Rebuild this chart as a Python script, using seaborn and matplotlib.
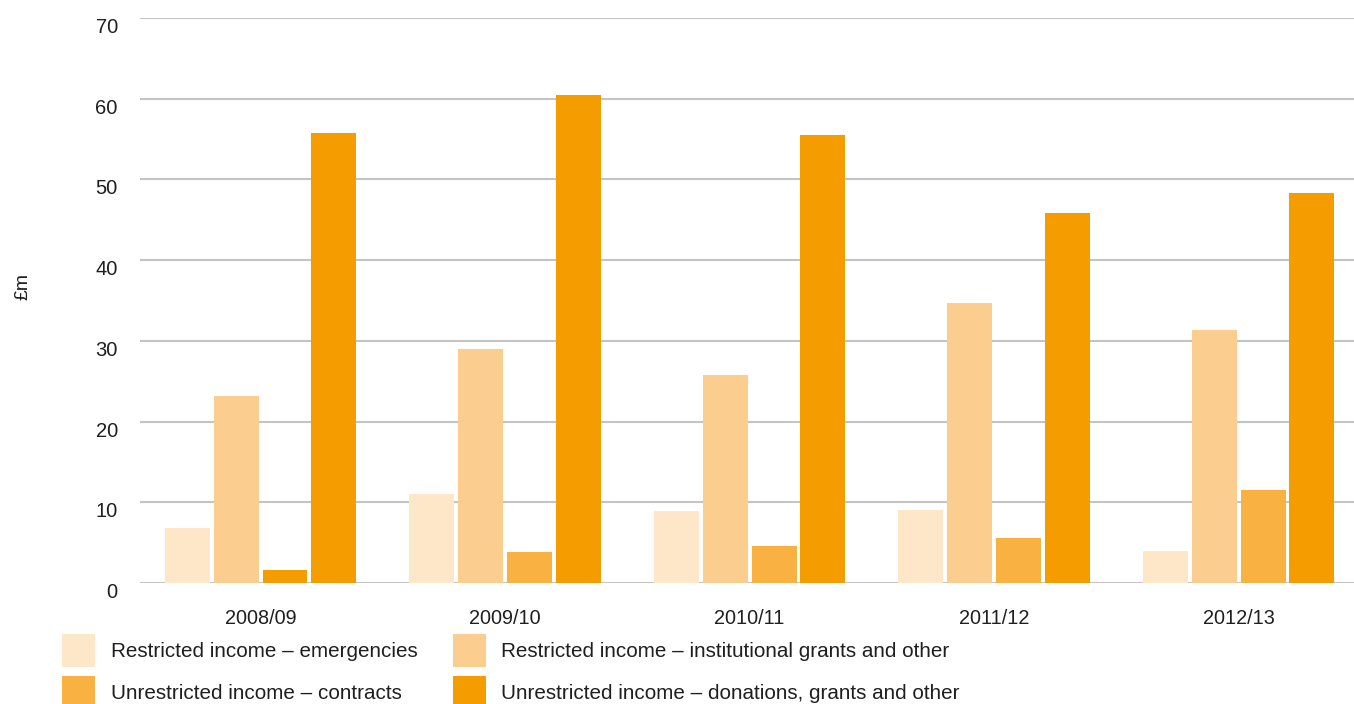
import matplotlib
matplotlib.use("Agg")
import matplotlib.pyplot as plt
import seaborn as sns
import pandas as pd
from matplotlib.patches import Patch

years = ["2008/09", "2009/10", "2010/11", "2011/12", "2012/13"]
series = [
    "Restricted income – emergencies",
    "Restricted income – institutional grants and other",
    "Unrestricted income – contracts",
    "Unrestricted income – donations, grants and other",
]
emergencies = [6.8, 11.0, 8.9, 9.0, 4.0]
institutional = [23.2, 29.0, 25.8, 34.7, 31.4]
contracts = [1.6, 3.8, 4.6, 5.6, 11.5]
donations = [55.8, 60.5, 55.5, 45.8, 48.3]
colors = ["#FEE6C8", "#FBCE8F", "#F9B242", "#F59C00"]
yticks = [0, 10, 20, 30, 40, 50, 60, 70]

rows = []
for name, vals in zip(series, [emergencies, institutional, contracts, donations]):
    for y, v in zip(years, vals):
        rows.append({"year": y, "series": name, "value": v})
df = pd.DataFrame(rows)

sns.set_theme(style="white")
plt.rcParams["font.family"] = ["Liberation Sans", "DejaVu Sans"]
text_color = "#1f1f1f"

fig = plt.figure(figsize=(13.54, 7.04), dpi=100)
ax = fig.add_axes([140 / 1354, 1 - 583 / 704, 1 - 140 / 1354, (583 - 18) / 704])

sns.barplot(data=df, x="year", y="value", hue="series", hue_order=series,
            palette=colors, width=0.8, gap=0.08, saturation=1, errorbar=None,
            linewidth=0, edgecolor="none", ax=ax, legend=False, zorder=3)

# the first contracts bar is printed in the deeper orange
first_group = [p for p in ax.patches if p.get_x() + p.get_width() / 2 < 0.5]
first_group.sort(key=lambda p: p.get_x())
if len(first_group) >= 3:
    first_group[2].set_facecolor(colors[3])

ax.set_ylim(0, 70)
ax.set_xlim(-0.493, 4.472)
ax.set_yticks(yticks)
ax.yaxis.grid(True, color="#c4c4c4", linewidth=1.5, zorder=0)
ax.set_axisbelow(True)
for s in ax.spines.values():
    s.set_visible(False)
ax.tick_params(axis="y", length=0, pad=16, labelsize=14.5, labelcolor=text_color)
ax.tick_params(axis="x", length=0, pad=19, labelsize=14.3, labelcolor=text_color)
for lab in ax.get_yticklabels():
    lab.set_verticalalignment("top")
ax.set_xlabel("")
ax.set_ylabel("£m", fontsize=14, color=text_color)
ax.yaxis.set_label_coords((31 - 140) / 1214, (583 - 286) / 565)

order = [0, 2, 1, 3]
handles = [Patch(facecolor=colors[i], edgecolor="none") for i in order]
labels = [series[i] for i in order]
fig.legend(handles, labels, ncol=2, loc="upper left",
           bbox_to_anchor=(62 / 1354, 1 - 634 / 704), frameon=False,
           borderpad=0, borderaxespad=0, fontsize=14.9, handlelength=1.6,
           handleheight=2.07, handletextpad=0.75, columnspacing=1.7,
           labelspacing=0.43, labelcolor=text_color)

fig.savefig("out.png", dpi=100)
